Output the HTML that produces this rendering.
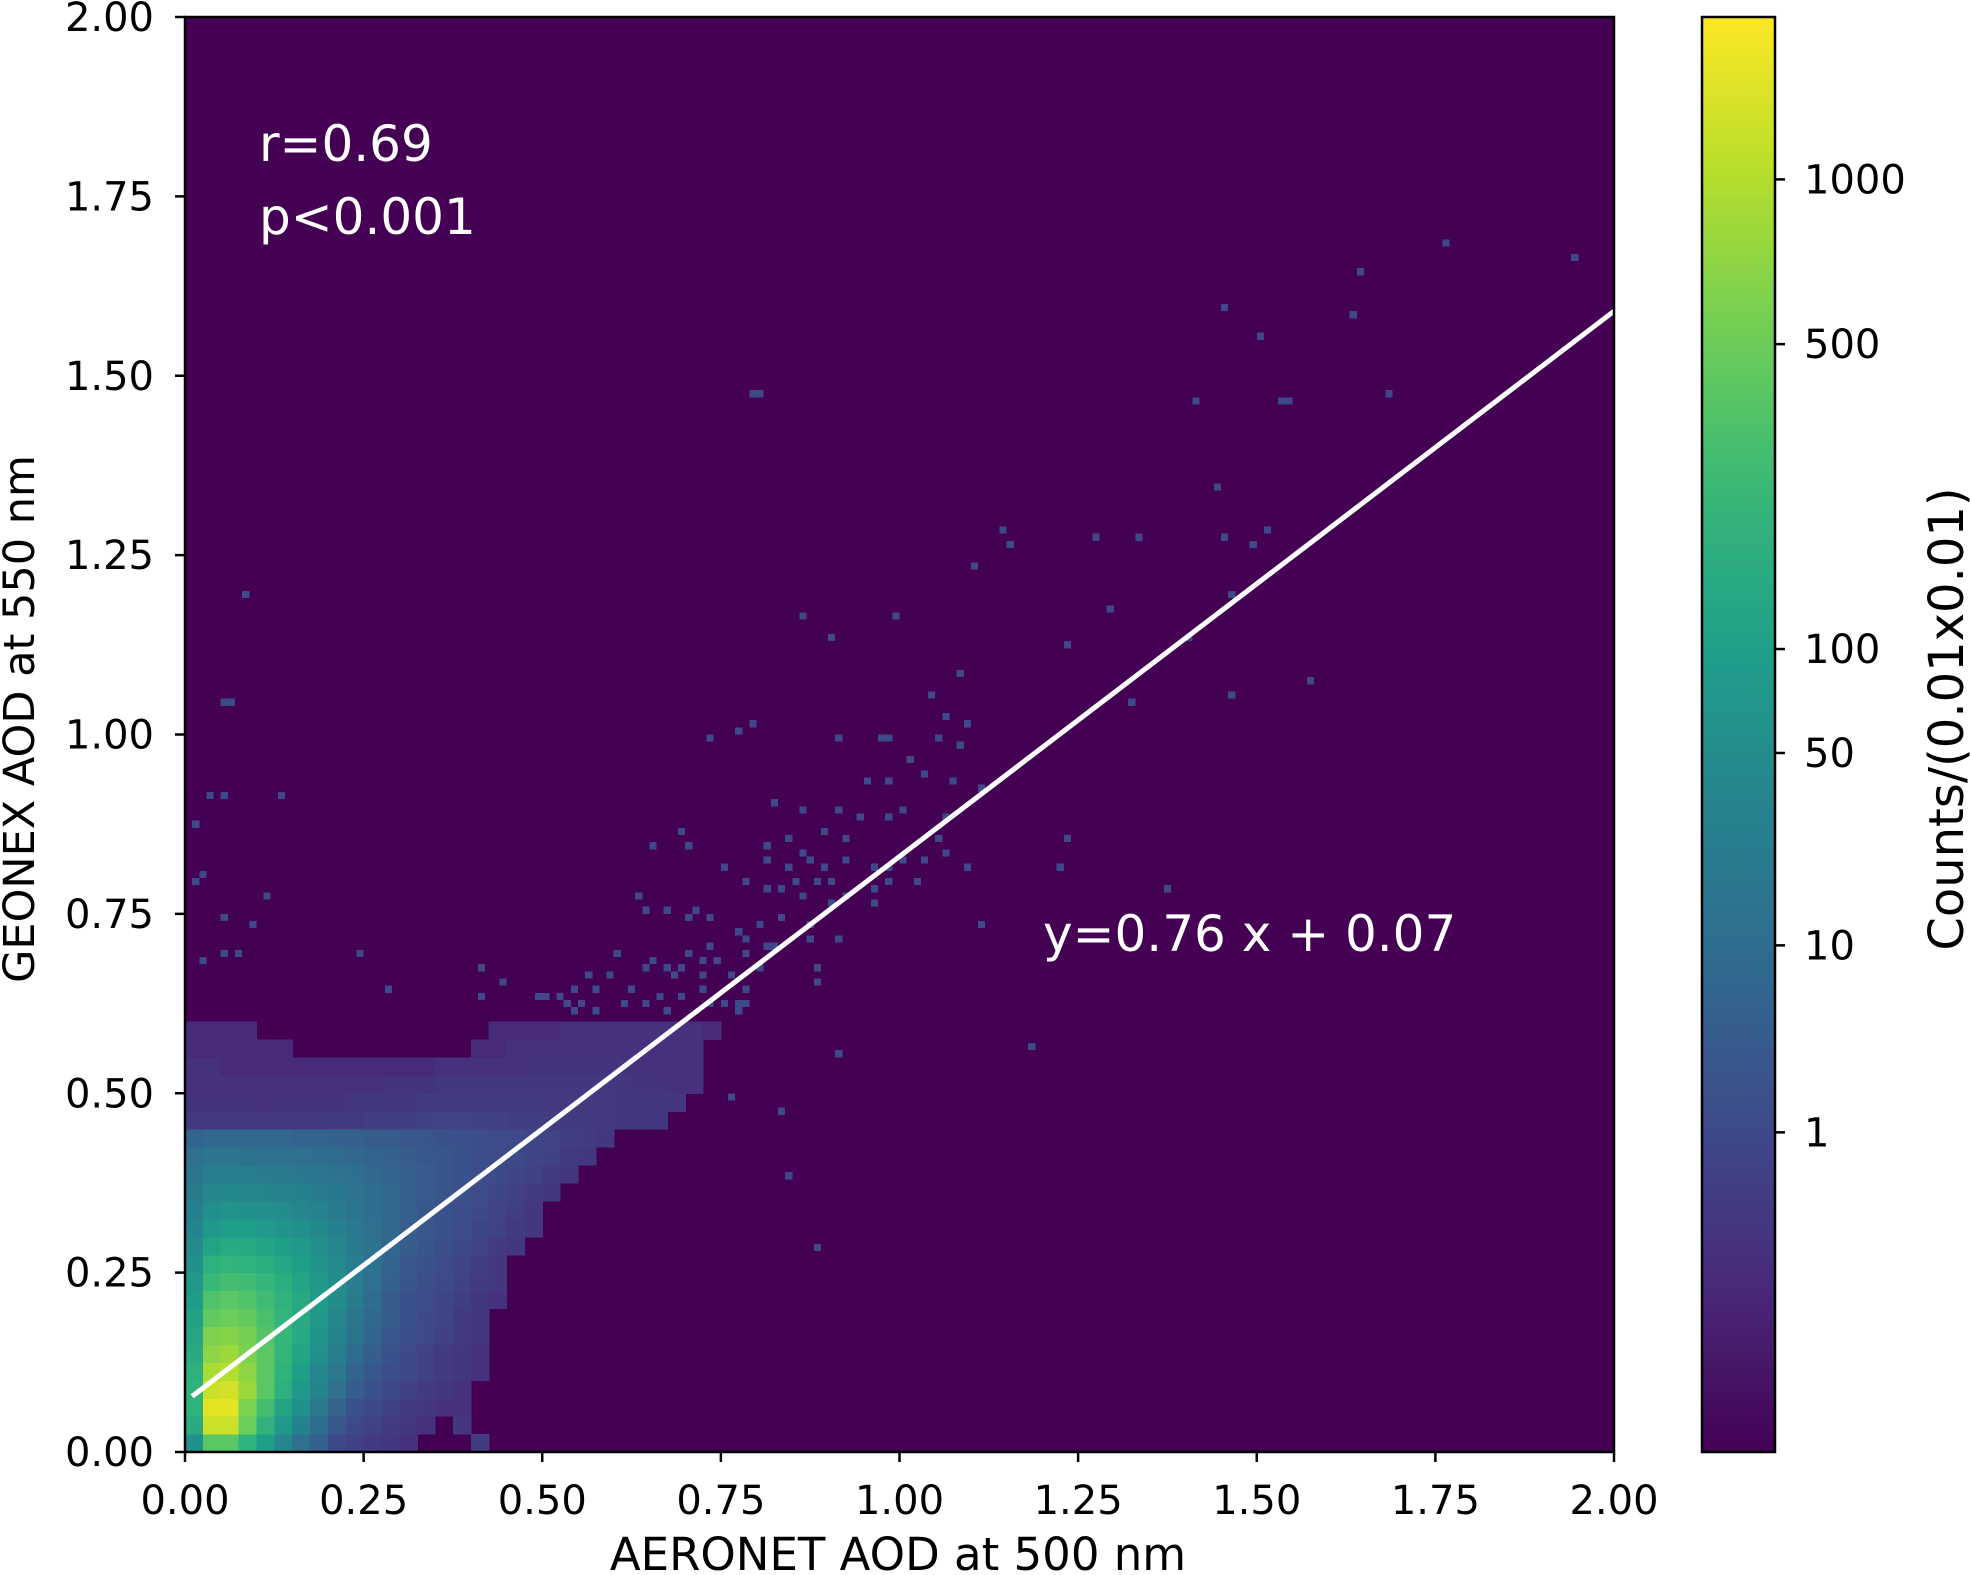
<!DOCTYPE html>
<html><head><meta charset="utf-8"><style>
html,body{margin:0;padding:0;background:#fff;}
svg{display:block;font-family:"DejaVu Sans","Liberation Sans",sans-serif;}
</style></head><body>
<svg id="chart" width="1970" height="1575" viewBox="0 0 1970 1575" xmlns="http://www.w3.org/2000/svg">
<defs><linearGradient id="cbgrad" x1="0" y1="1" x2="0" y2="0"></linearGradient></defs>
<g id="plot"></g>
<g id="axes"></g>
<g id="cbar"></g>
</svg>
<script>
// ---- data ----
const xTicks = [0, 0.25, 0.5, 0.75, 1.0, 1.25, 1.5, 1.75, 2.0];
const yTicks = [0, 0.25, 0.5, 0.75, 1.0, 1.25, 1.5, 1.75, 2.0];
const cbTicks = [1, 10, 50, 100, 500, 1000];
const gridBin = 0.025;
// coarse density grid (counts per 0.01x0.01 bin), rows from y=0 upward, columns from x=0
const densityRows = [
[60,400,400,200,100,40,12,5,1,0.5,0.3,0.2,0.1,0,0,0,0.3],
[150,1200,1200,500,200,80,30,10,3,1,0.5,0.3,0.2,0.1,0,0.2],
[200,1500,1500,600,300,120,60,20,6,2,1,0.5,0.3,0.2,0.1,0.1],
[200,1200,1300,800,400,180,80,35,12,4,2,1,0.5,0.3,0.2,0.1],
[180,900,1000,700,400,200,100,40,20,6,3,1.5,1,0.5,0.3,0.2,0.1],
[150,700,800,600,400,220,120,60,25,10,4,2,1,0.5,0.3,0.2,0.1],
[130,600,650,550,380,230,140,70,35,15,6,3,1.5,1,0.5,0.3,0.2],
[110,450,500,450,330,220,140,80,40,18,8,4,2,1,0.6,0.3,0.2],
[90,350,400,350,280,200,140,90,50,22,10,4,2,1.2,0.8,0.4,0.2,0.1],
[75,250,300,280,230,170,120,80,50,25,12,5,2.5,1.5,1,0.5,0.3,0.2],
[60,180,220,200,170,130,100,70,45,25,14,6,3,2,1.2,0.7,0.4,0.2],
[45,120,150,140,120,100,80,55,38,24,14,7,4,2.5,1.5,1,0.6,0.3,0.2],
[35,80,100,95,85,70,55,42,30,20,12,7,4,3,2,1.2,0.8,0.5,0.3,0.2],
[28,55,65,60,55,48,40,32,24,17,11,7,4.5,3,2,1.5,1,0.6,0.4,0.2],
[22,38,42,40,36,32,28,24,19,14,10,7,5,3.5,2.5,1.8,1.2,0.8,0.5,0.3,0.2],
[16,25,26,25,23,21,19,17,14,11,8,6,4.5,3.5,2.5,2,1.5,1,0.7,0.5,0.3,0.2],
[12,16,16,15,14,13,12,11,10,8,6,5,4,3,2.5,2,1.5,1.2,1,0.7,0.5,0.3,0.2],
[6,8,8,8,7,7,6,6,5,5,4,4,3,2.5,2,1.7,1.4,1.2,1,0.8,0.6,0.4,0.3,0.2],
[0.25,0.25,0.25,0.25,0.25,0.25,0.25,0.25,0.3,0.3,0.4,0.4,0.4,0.5,0.6,0.6,0.5,0.5,0.4,0.4,0.3,0.3,0.25,0.25,0.2,0.2,0.2],
[0.15,0.15,0.15,0.15,0.1,0.15,0.15,0.15,0.15,0.2,0.2,0.2,0.2,0.3,0.3,0.3,0.3,0.3,0.3,0.3,0.25,0.25,0.25,0.25,0.2,0.2,0.2,0.2],
[0.1,0.1,0.1,0.1,0.1,0.1,0.1,0.1,0.1,0.1,0.1,0.15,0.15,0.15,0.2,0.2,0.2,0.2,0.2,0.2,0.2,0.2,0.2,0.2,0.2,0.15,0.15,0.1,0.1],
[0.1,0.1,0.05,0.05,0.05,0.05,0.05,0.05,0.05,0.05,0.05,0.05,0.05,0.05,0.1,0.1,0.1,0.1,0.1,0.15,0.15,0.15,0.15,0.15,0.15,0.1,0.1,0.1,0.1],
[0.05,0.05,0.05,0.05,0.05,0.05,0,0,0,0,0,0,0,0,0,0,0.05,0.05,0.1,0.1,0.1,0.1,0.1,0.1,0.1,0.1,0.1,0.1,0.1],
[0.05,0.05,0.05,0.05,0,0,0,0,0,0,0,0,0,0,0,0,0,0.05,0.05,0.05,0.05,0.1,0.1,0.1,0.1,0.1,0.1,0.1,0.1,0.05]
];
// sparse isolated bins (x, y) with count 1
const sparseX = [1.041,1.060,1.097,0.770,0.734,0.910,0.985,1.055,1.083,1.013,1.032,0.953,0.985,1.079,1.116,0.826,0.864,0.910,1.004,0.943,0.985,1.069,0.696,0.892,0.845,0.920,0.658,0.706,0.817,1.050,0.864,1.060,0.817,0.924,1.004,1.032,0.752,0.841,0.873,0.892,0.966,0.985,1.092,0.789,0.855,0.883,0.901,0.985,1.022,0.817,0.836,0.864,0.920,0.966,0.631,0.906,0.966,0.640,0.673,0.715,0.701,0.734,0.836,0.808,0.873,1.116,0.775,0.789,0.873,0.915,0.817,0.734,0.603,0.705,0.780,0.826,0.659,0.728,0.747,0.649,0.673,0.696,0.803,0.887,0.566,0.594,0.687,0.724,0.761,0.882,0.547,0.575,0.621,0.724,0.780,0.491,0.509,0.528,0.669,0.697,0.734,0.752,0.771,0.789,0.537,0.556,0.612,0.640,0.547,0.575,0.678,0.771,0.060,0.065,0.035,0.055,0.135,0.014,0.024,0.014,0.115,0.055,0.094,0.055,0.075,0.245,0.024,0.414,0.443,0.285,0.414,1.764,1.648,1.944,1.452,1.630,1.503,0.790,0.800,1.412,1.544,1.530,1.685,1.444,1.143,1.514,1.276,1.338,1.153,1.450,1.493,1.104,0.080,1.292,1.465,0.990,0.863,0.905,1.232,1.400,1.085,1.574,1.465,0.056,0.792,0.972,1.320,1.236,1.227,1.183,0.884,0.845,0.914,0.764,1.375,0.830];
const sparseY = [1.058,1.026,1.016,1.006,0.996,0.992,0.996,0.996,0.986,0.965,0.946,0.937,0.937,0.937,0.926,0.906,0.897,0.897,0.897,0.886,0.881,0.886,0.865,0.861,0.855,0.855,0.845,0.845,0.845,0.855,0.836,0.836,0.821,0.826,0.826,0.826,0.812,0.817,0.821,0.817,0.816,0.816,0.816,0.795,0.796,0.796,0.795,0.795,0.795,0.786,0.786,0.777,0.777,0.786,0.776,0.766,0.766,0.755,0.755,0.755,0.745,0.745,0.745,0.732,0.736,0.736,0.726,0.716,0.716,0.716,0.709,0.706,0.690,0.695,0.695,0.700,0.686,0.686,0.686,0.676,0.676,0.676,0.676,0.676,0.666,0.666,0.666,0.666,0.666,0.657,0.643,0.645,0.643,0.643,0.643,0.636,0.636,0.636,0.636,0.636,0.627,0.627,0.627,0.627,0.626,0.626,0.626,0.626,0.616,0.616,0.616,0.616,1.046,1.046,0.915,0.915,0.915,0.876,0.806,0.795,0.776,0.745,0.736,0.695,0.695,0.695,0.686,0.676,0.656,0.645,0.634,1.689,1.649,1.668,1.599,1.587,1.557,1.477,1.477,1.468,1.468,1.468,1.477,1.346,1.286,1.286,1.277,1.277,1.260,1.277,1.260,1.237,1.199,1.178,1.199,1.167,1.167,1.137,1.125,1.132,1.080,1.076,1.057,1.048,1.010,0.992,1.045,0.857,0.812,0.567,0.287,0.388,0.558,0.495,0.787,0.476];
const fitSlope = 0.76, fitIntercept = 0.07, fitX0 = 0.01, fitX1 = 2.0;

// ---- geometry ----
const PL=185, PR=1614, PT=17, PB=1452;
const CBL=1702, CBR=1775;
const xs = v => PL + (v/2)*(PR-PL);
const ys = v => PB - (v/2)*(PB-PT);
const GAMMA=0.2, VMAX=1823;
const norm = c => Math.min(1, Math.pow(Math.max(c,0),GAMMA)/Math.pow(VMAX,GAMMA));
const cbY = c => PB - norm(c)*(PB-PT);
const VIR=["#440154","#482878","#3e4989","#31688e","#26828e","#1f9e89","#35b779","#6ece58","#b5de2b","#fde725"];
function hex(h){return [1,3,5].map(i=>parseInt(h.substr(i,2),16));}
function viridis(t){t=Math.max(0,Math.min(1,t));const p=t*9,i=Math.min(8,Math.floor(p)),f=p-i;const a=hex(VIR[i]),b=hex(VIR[i+1]);return "rgb("+a.map((v,k)=>Math.round(v+(b[k]-v)*f)).join(",")+")";}
const NS="http://www.w3.org/2000/svg";
function mk(tag,attrs,parent){const e=document.createElementNS(NS,tag);for(const k in attrs)e.setAttribute(k,attrs[k]);parent.appendChild(e);return e;}

const plot=document.getElementById('plot'), axes=document.getElementById('axes'), cbar=document.getElementById('cbar');
let bg=mk('rect',{x:PL,y:PT,width:PR-PL,height:PB-PT,fill:VIR[0]},plot);


const cells=mk('g',{'shape-rendering':'crispEdges'},plot);


densityRows.forEach((row,r)=>{row.forEach((c,ci)=>{ if(c<=0) return;
  const x0=xs(ci*gridBin), x1=xs((ci+1)*gridBin), y1=ys(r*gridBin), y0=ys((r+1)*gridBin);
  const e=mk('rect',{x:x0,y:y0,width:x1-x0+0.6,height:y1-y0+0.6,fill:viridis(norm(c))},cells);
  
  
});});
sparseX.forEach((sx,i)=>{const bx=Math.floor(sx*100)/100, by=Math.floor(sparseY[i]*100)/100;
  const e=mk('rect',{x:xs(bx),y:ys(by+0.01),width:xs(0.01)-xs(0),height:ys(0)-ys(0.01),fill:viridis(norm(1))},cells);
  
  
});
let fl=mk('line',{x1:xs(fitX0),y1:ys(fitIntercept+fitSlope*fitX0),x2:xs(fitX1),y2:ys(fitIntercept+fitSlope*fitX1),stroke:"#fff","stroke-width":5},plot);


function txt(s,attrs,parent,name){const e=mk('text',attrs,parent);e.textContent=s;return e;}
txt("r=0.69",{x:259,y:161,fill:"#fff","font-size":50},plot,'correlation-label');
txt("p<0.001",{x:259,y:234,fill:"#fff","font-size":50},plot,'p-value-label');
txt("y=0.76 x + 0.07",{x:1043,y:951,fill:"#fff","font-size":50},plot,'regression-equation');

let fr=mk('rect',{x:PL,y:PT,width:PR-PL,height:PB-PT,fill:"none",stroke:"#000","stroke-width":2.5},axes);


xTicks.forEach(t=>{const x=xs(t);
  const l=mk('line',{x1:x,y1:PB,x2:x,y2:PB+10,stroke:"#000","stroke-width":2.5},axes);
  
  
  txt(t.toFixed(2),{x:x,y:1514,"text-anchor":"middle","font-size":40},axes,'x-tick-label');
});
yTicks.forEach(t=>{const y=ys(t);
  const l=mk('line',{x1:PL-10,y1:y,x2:PL,y2:y,stroke:"#000","stroke-width":2.5},axes);
  
  
  txt(t.toFixed(2),{x:154,y:y+14,"text-anchor":"end","font-size":40},axes,'y-tick-label');
});
txt("AERONET AOD at 500 nm",{x:898,y:1570,"text-anchor":"middle","font-size":45},axes,'x-axis-title');
txt("GEONEX AOD at 550 nm",{x:0,y:0,"text-anchor":"middle","font-size":43,transform:"translate(34,719) rotate(-90)"},axes,'y-axis-title');

// colorbar
const grad=document.getElementById('cbgrad');
for(let i=0;i<=20;i++){mk('stop',{offset:(i/20),"stop-color":viridis(i/20)},grad);}
let cb=mk('rect',{x:CBL,y:PT,width:CBR-CBL,height:PB-PT,fill:"url(#cbgrad)",stroke:"#000","stroke-width":2.5},cbar);


cbTicks.forEach(t=>{const y=cbY(t);
  const l=mk('line',{x1:CBR,y1:y,x2:CBR+10,y2:y,stroke:"#000","stroke-width":2.5},cbar);
  
  
  txt(String(t),{x:1804,y:y+14,"font-size":40},cbar,'colorbar-tick-label');
});
txt("Counts/(0.01x0.01)",{x:0,y:0,"text-anchor":"middle","font-size":48,transform:"translate(1963,719) rotate(-90)"},cbar,'colorbar-title');
</script>
</body></html>
